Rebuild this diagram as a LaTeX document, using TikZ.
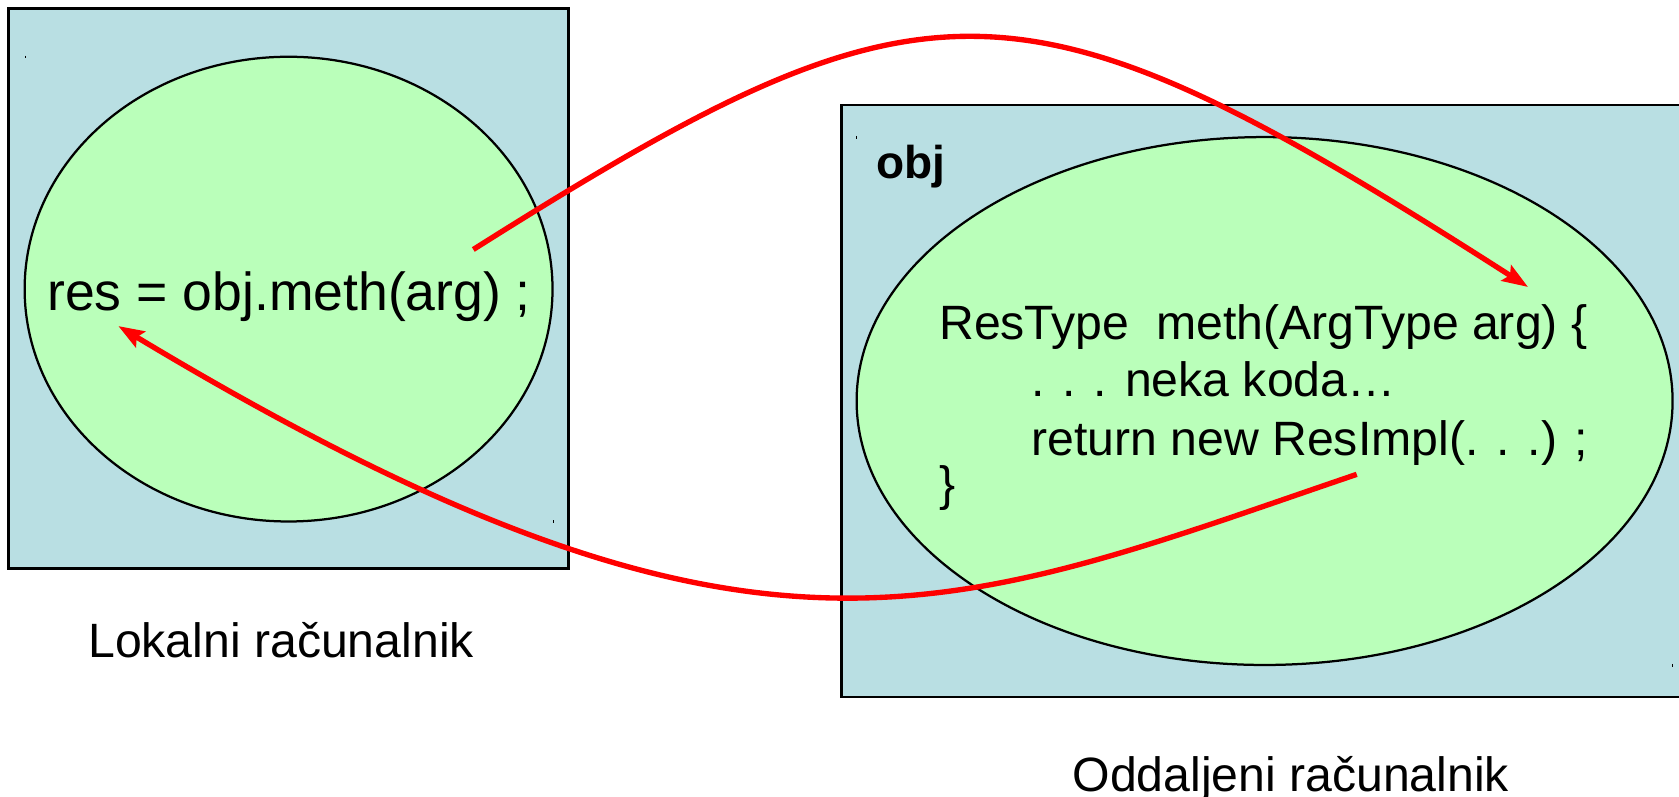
\documentclass[tikz,border=0pt]{standalone}
\usepackage{fontspec}
\setmainfont{Liberation Sans}
\usetikzlibrary{shapes.geometric,arrows.meta}
\definecolor{hostblue}{RGB}{185,223,227}
\definecolor{objgreen}{RGB}{186,255,186}
\tikzstyle{host}=[draw=black,line width=2.4pt,fill=hostblue]
\tikzstyle{objshape}=[ellipse,draw=black,line width=2.1pt,fill=objgreen,inner sep=0pt]
\tikzstyle{codeline}=[inner sep=0pt,anchor=base west,font=\fontsize{45}{54}\selectfont]
\tikzstyle{hostlabel}=[inner sep=0pt,anchor=base,font=\fontsize{45}{54}\selectfont]
\tikzstyle{call}=[red,line width=5pt,-{Stealth[length=24pt,width=17pt,inset=4pt]}]

\begin{document}
\begin{tikzpicture}[x=1pt,y=-1pt]
	\useasboundingbox (0,0) rectangle (1568,744);
	\clip (0,0) rectangle (1568,744);
	%hosts
	\draw[host] (8,8) rectangle (531,531);
	\draw[host] (786,98) rectangle (1575,651);
	%objects
	\node[objshape, minimum width=493pt, minimum height=434pt] (local) at (269.5,270) {};
	\node[objshape, minimum width=762pt, minimum height=493pt] (remote) at (1181,374.5) {};
	%ticks
	\foreach \p in {(23.5,52),(517,486),(800,127),(1562,620)}
	\draw[line width=0.7pt] \p -- ++(0,2.5);
	%texts
	\node[inner sep=0pt, anchor=base, font=\fontsize{50}{60}\selectfont] (stmt) at (270,290) {res = obj.meth(arg) ;};
	\node[inner sep=0pt, anchor=base west, font=\bfseries\fontsize{43}{52}\selectfont] (objname) at (818,166.5) {obj};
	\node[codeline] (code1) at (877,317.5) {ResType\ \ meth(ArgType arg) \{};
	\node[codeline] (code2) at (963,370.5) {. . . neka koda…};
	\node[codeline] (code3) at (963,425) {return new ResImpl(. . .) ;};
	\node[codeline] (code4) at (877,467) {\}};
	%labels
	\node[hostlabel] (locallabel) at (262.5,614) {Lokalni računalnik};
	\node[hostlabel] (remotelabel) at (1205.5,739) {Oddaljeni računalnik};
	%calls
	\coordinate (req start) at (442,233);
	\coordinate (req end) at (1427,268);
	\coordinate (res start) at (1267,443);
	\coordinate (res end) at (110.5,304.5);
	\draw[call] (req start) .. controls (869,-36.5) and (952,-36.5) .. (req end);
	\draw[call] (res start) .. controls (886,572.5) and (708,664) .. (res end);
\end{tikzpicture}
\end{document}
